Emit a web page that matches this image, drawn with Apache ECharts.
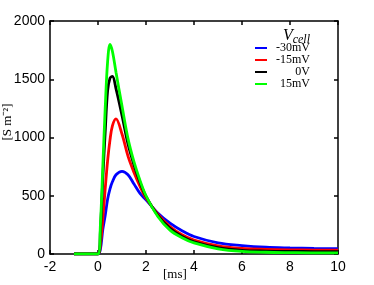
<!DOCTYPE html>
<html>
<head>
<meta charset="utf-8">
<script src="https://cdn.jsdelivr.net/npm/echarts@6/dist/echarts.min.js"></script>
<style>html,body{margin:0;padding:0;background:#fff}#c{width:374px;height:285px}</style>
</head>
<body>
<div id="c"></div>
<script>
// time [ms]
var t = [-1, 0, 0.1, 0.2, 0.3, 0.4, 0.5, 0.6, 0.75, 1, 1.25, 1.5, 1.75, 2, 2.5, 3, 3.5, 4, 5, 6, 7, 8, 9, 10];
var seriesNames = ['-30mV', '-15mV', '0V', '15mV'];
var vNeg30 = [0, 0, 40, 210, 330, 470, 560, 620, 680, 710, 680, 600, 520, 465, 350, 265, 200, 150, 95, 72, 58, 52, 48, 45];
var vNeg15 = [0, 0, 80, 300, 560, 800, 980, 1100, 1160, 1030, 840, 700, 580, 480, 340, 235, 165, 120, 70, 48, 40, 36, 34, 33];
var v0     = [0, 0, 200, 650, 1050, 1400, 1510, 1525, 1420, 1190, 945, 765, 615, 495, 330, 220, 150, 105, 55, 32, 25, 22, 21, 20];
var v15    = [0, 0, 250, 750, 1250, 1650, 1800, 1740, 1560, 1270, 990, 790, 632, 500, 320, 205, 140, 95, 45, 22, 15, 12, 10, 10];
var colors = ['#0000ff', '#ff0000', '#000000', '#00ff00'];
var xTicks = [-2, 0, 2, 4, 6, 8, 10];
var yTicks = [0, 500, 1000, 1500, 2000];

function pairs(v){ return t.map(function(x,i){ return [x, v[i]]; }); }
var all = [vNeg30, vNeg15, v0, v15];

var chart = echarts.init(document.getElementById('c'), null, {renderer:'canvas'});
var axisFont = {color:'#000', fontFamily:'Liberation Sans, Arial, sans-serif', fontSize:14};
var lineStyle = {color:'#000', width:1.5};
var serif = 'Liberation Serif, Times New Roman, serif';
chart.setOption({
  animation:false,
  grid:{left:50, right:36, top:21, bottom:31, containLabel:false, outerBoundsMode:'none'},
  legend:{
    data:seriesNames,
    right:64, top:42,
    orient:'vertical',
    itemWidth:12, itemHeight:2, itemGap:0,
    icon:'rect',
    formatter:function(n){ return '{a|' + n + '}'; },
    textStyle:{fontFamily:serif, fontSize:12, color:'#000', lineHeight:11,
      rich:{a:{fontFamily:serif, fontSize:12, color:'#000', width:38, align:'right', lineHeight:11}}},
    padding:0
  },
  title:{
    text:'{v|V}{s|cell}',
    right:64, top:26,
    padding:0,
    textStyle:{fontWeight:'normal', rich:{
      v:{fontFamily:serif, fontStyle:'italic', fontWeight:'normal', fontSize:16, color:'#000'},
      s:{fontFamily:serif, fontStyle:'italic', fontWeight:'normal', fontSize:12, color:'#000', padding:[8,0,0,0]}
    }}
  },
  xAxis:[{
    type:'value', min:-2, max:10, interval:2,
    axisLine:{show:true, onZero:false, lineStyle:lineStyle},
    axisTick:{show:true, inside:true, length:4, lineStyle:lineStyle},
    axisLabel:Object.assign({margin:6, formatter:function(v){return xTicks.indexOf(v)>=0?String(v):'';}}, axisFont),
    splitLine:{show:false}
  },{
    type:'value', min:-2, max:10, interval:2, position:'top',
    axisLine:{show:true, onZero:false, lineStyle:lineStyle},
    axisTick:{show:true, inside:true, length:4, lineStyle:lineStyle},
    axisLabel:{show:false}, splitLine:{show:false}
  }],
  yAxis:[{
    type:'value', min:0, max:2000, interval:500,
    axisLine:{show:true, onZero:false, lineStyle:lineStyle},
    axisTick:{show:true, inside:true, length:4, lineStyle:lineStyle},
    axisLabel:Object.assign({margin:5, formatter:function(v){return yTicks.indexOf(v)>=0?String(v):'';}}, axisFont),
    splitLine:{show:false}
  },{
    type:'value', min:0, max:2000, interval:500, position:'right',
    axisLine:{show:true, onZero:false, lineStyle:lineStyle},
    axisTick:{show:true, inside:true, length:4, lineStyle:lineStyle},
    axisLabel:{show:false}, splitLine:{show:false}
  }],
  graphic:[{
    type:'text', left:163, top:268,
    style:{text:'[ms]', font:'13px "Liberation Serif", serif', fill:'#000'}
  },{
    type:'text', x:8, y:122, rotation:Math.PI/2,
    style:{text:'[S m\u207B\u00B2]', font:'13px "Liberation Serif", serif', fill:'#000', align:'center', verticalAlign:'middle'}
  }],
  series:all.map(function(v,i){
    return {
      name:seriesNames[i], type:'line', data:pairs(v), smooth:0.35,
      showSymbol:false, symbol:'none',
      lineStyle:{color:colors[i], width:2.8}, itemStyle:{color:colors[i]},
      z:2+i
    };
  })
});
</script>
</body>
</html>
